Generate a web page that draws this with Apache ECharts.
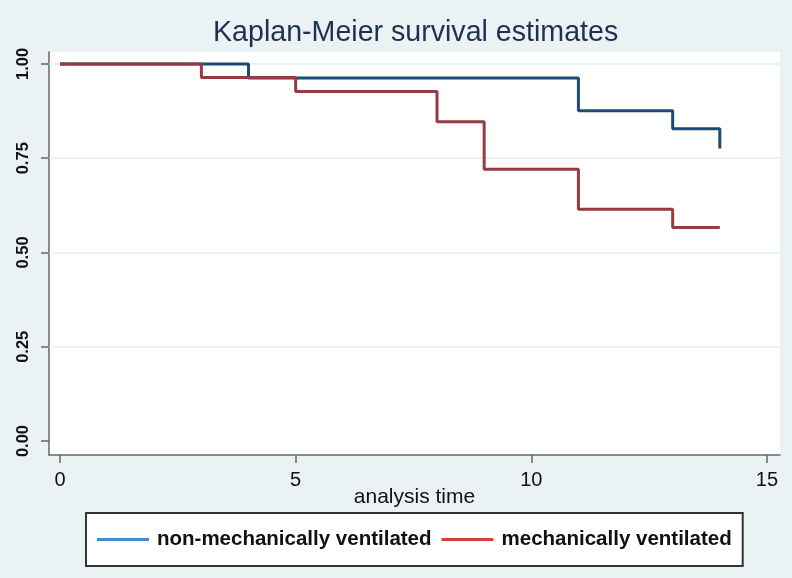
<!DOCTYPE html>
<html>
<head>
<meta charset="utf-8">
<script src="https://cdn.jsdelivr.net/npm/echarts@6/dist/echarts.min.js"></script>
<style>
html,body{margin:0;padding:0;background:#eaf2f3;}
#chart{width:792px;height:578px;}
</style>
</head>
<body>
<div id="chart"></div>
<script>
// Data
const seriesNames = ['non-mechanically ventilated', 'mechanically ventilated'];
const nonMechTimes = [0, 4, 11, 13, 14];
const nonMechSurv  = [1.0, 0.963, 0.876, 0.828, 0.776];
const mechTimes = [0, 3, 5, 8, 9, 11, 13, 14];
const mechSurv  = [1.0, 0.964, 0.927, 0.847, 0.721, 0.615, 0.566, 0.566];
const xTicks = [0, 5, 10, 15];
const yTicks = [0, 0.25, 0.5, 0.75, 1.0];
const yGrid  = [0.25, 0.5, 0.75, 1.0];

const pair = (t, s) => t.map((v, i) => [v, s[i]]);

const chart = echarts.init(document.getElementById('chart'));
chart.setOption({
  backgroundColor: '#eaf2f3',
  animation: false,
  title: {
    text: 'Kaplan-Meier survival estimates',
    left: 208, top: 14,
    textStyle: {fontFamily: 'Liberation Sans', fontSize: 28.6, fontWeight: 'normal', color: '#1e3150'}
  },
  grid: {left: 49, right: 12, top: 52, bottom: 123, show: true, backgroundColor: '#ffffff', borderWidth: 0},
  xAxis: {
    type: 'value', min: -0.233, max: 15.277,
    name: 'analysis time', nameLocation: 'middle', nameGap: 32, nameMoveOverlap: false,
    nameTextStyle: {fontFamily: 'Liberation Sans', fontSize: 21, color: '#111'},
    axisLine: {show: true, onZero: false, lineStyle: {color: '#666', width: 1.5}},
    axisTick: {show: true, length: 8, customValues: xTicks, lineStyle: {color: '#666', width: 1.5}},
    axisLabel: {customValues: xTicks, margin: 15, fontFamily: 'Liberation Sans', fontSize: 20, color: '#111'},
    splitLine: {show: false}
  },
  yAxis: {
    type: 'value', min: -0.0371, max: 1.0318,
    axisLine: {show: true, onZero: false, lineStyle: {color: '#666', width: 1.5}},
    axisTick: {show: true, length: 8, customValues: yTicks, lineStyle: {color: '#666', width: 1.5}},
    axisLabel: {customValues: yTicks, rotate: 90, margin: 17, fontFamily: 'Liberation Sans', fontSize: 16.5, fontWeight: 'bold', color: '#111',
      formatter: v => v.toFixed(2)},
    splitLine: {show: false}
  },
  legend: {
    left: 86, top: 513,
    padding: [16, 11, 16, 11],
    itemWidth: 52, itemHeight: 3, itemGap: 10,
    backgroundColor: '#ffffff', borderColor: '#333', borderWidth: 2, borderRadius: 0,
    icon: 'rect',
    textStyle: {fontFamily: 'Liberation Sans', fontSize: 20.5, fontWeight: 'bold', color: '#111', padding: [0, 0, 0, 3]},
    data: [
      {name: seriesNames[0], itemStyle: {color: '#3f8ed6'}},
      {name: seriesNames[1], itemStyle: {color: '#d8403f'}}
    ]
  },
  series: [
    {
      name: 'grid', type: 'line', data: [], silent: true, z: 1,
      markLine: {
        silent: true, symbol: 'none', label: {show: false}, animation: false, z: 1,
        lineStyle: {color: '#e6eff1', width: 1.5, type: 'solid'},
        data: yGrid.map(v => ({yAxis: v}))
      }
    },
    {
      name: seriesNames[0], type: 'line', step: 'end', showSymbol: false,
      data: pair(nonMechTimes, nonMechSurv),
      lineStyle: {color: '#1f4a73', width: 3}, itemStyle: {color: '#1f4a73'},
      z: 3
    },
    {
      name: seriesNames[1], type: 'line', step: 'end', showSymbol: false,
      data: pair(mechTimes, mechSurv),
      lineStyle: {color: '#983a42', width: 3}, itemStyle: {color: '#983a42'},
      z: 4
    }
  ]
});
</script>
</body>
</html>
